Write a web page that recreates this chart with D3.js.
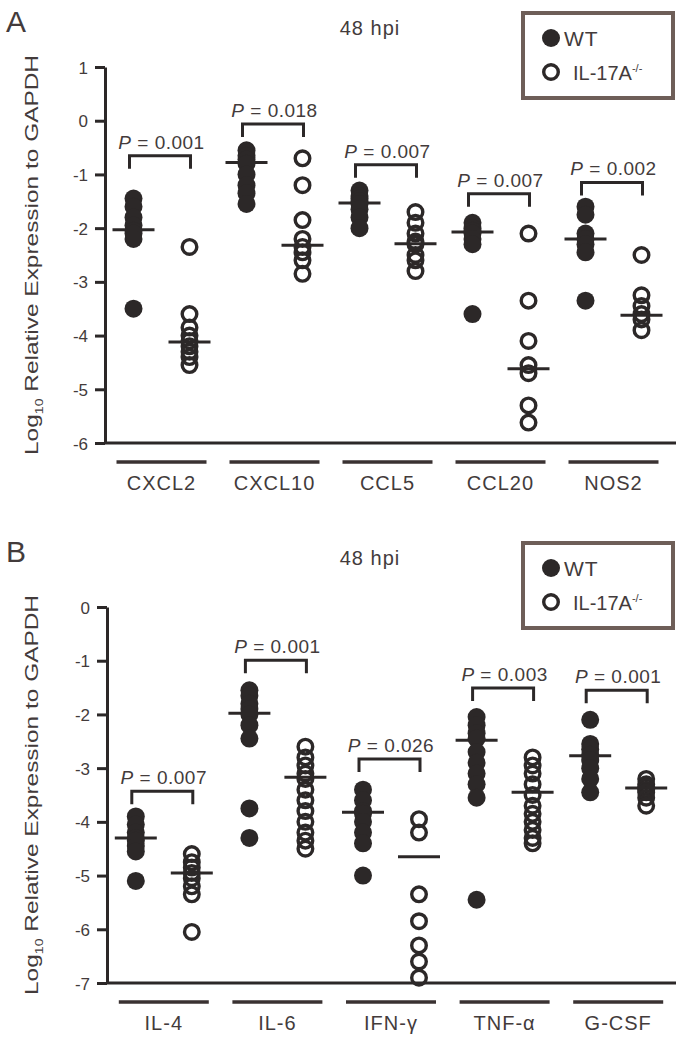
<!DOCTYPE html>
<html>
<head>
<meta charset="utf-8">
<script src="https://cdn.jsdelivr.net/npm/d3@7"></script>
<style>
  body { margin: 0; background: #fff; }
  text { font-family: "Liberation Sans", Arial, sans-serif; fill: #433b3b; }
</style>
</head>
<body>
<div id="chart"></div>
<script>
// panel A
const catsA = ['CXCL2', 'CXCL10', 'CCL5', 'CCL20', 'NOS2'];
const wtA = [
  [-1.45, -1.6, -1.8, -1.95, -2.05, -2.1, -2.2, -3.5],
  [-0.55, -0.65, -0.72, -0.8, -1.0, -1.2, -1.35, -1.55],
  [-1.3, -1.4, -1.45, -1.5, -1.55, -1.65, -1.8, -2.0],
  [-1.9, -2.0, -2.05, -2.1, -2.2, -2.3, -3.6],
  [-1.6, -1.75, -2.1, -2.2, -2.3, -2.45, -3.35]
];
const koA = [
  [-2.35, -3.6, -3.85, -4.0, -4.1, -4.2, -4.3, -4.4, -4.55],
  [-0.7, -1.2, -1.85, -2.2, -2.35, -2.45, -2.6, -2.85],
  [-1.7, -1.9, -2.1, -2.25, -2.3, -2.5, -2.6, -2.8],
  [-2.1, -3.35, -4.1, -4.55, -4.7, -5.3, -5.62],
  [-2.5, -3.25, -3.45, -3.6, -3.7, -3.9]
];
const wtLineA = [-2.03, -0.78, -1.53, -2.07, -2.2];
const koLineA = [-4.12, -2.32, -2.29, -4.62, -3.62];
const pA = ['0.001', '0.018', '0.007', '0.007', '0.002'];
const bracketA = [-0.65, -0.06, -0.82, -1.36, -1.15];
const ticksA = [1, 0, -1, -2, -3, -4, -5, -6];

// panel B
const catsB = ['IL-4', 'IL-6', 'IFN-γ', 'TNF-α', 'G-CSF'];
const wtB = [
  [-3.9, -4.05, -4.2, -4.3, -4.35, -4.45, -4.55, -5.1],
  [-1.55, -1.65, -1.8, -1.9, -2.0, -2.2, -2.45, -3.75, -4.3],
  [-3.4, -3.6, -3.8, -3.85, -4.0, -4.2, -4.4, -5.0],
  [-2.05, -2.2, -2.35, -2.45, -2.7, -2.9, -3.1, -3.3, -3.55, -5.45],
  [-2.1, -2.55, -2.65, -2.75, -2.85, -3.0, -3.2, -3.45]
];
const koB = [
  [-4.6, -4.75, -4.85, -4.95, -5.05, -5.2, -5.35, -6.05],
  [-2.6, -2.8, -2.95, -3.1, -3.2, -3.4, -3.6, -3.8, -4.0, -4.2, -4.35, -4.5],
  [-3.95, -4.2, -5.35, -5.85, -6.3, -6.6, -6.9],
  [-2.8, -2.95, -3.1, -3.3, -3.5, -3.7, -3.85, -4.0, -4.15, -4.3, -4.4],
  [-3.2, -3.3, -3.35, -3.4, -3.45, -3.55, -3.7]
];
const wtLineB = [-4.3, -1.98, -3.82, -2.48, -2.77];
const koLineB = [-4.95, -3.17, -4.65, -3.45, -3.37];
const pB = ['0.007', '0.001', '0.026', '0.003', '0.001'];
const bracketB = [-3.43, -0.99, -2.83, -1.51, -1.55];
const ticksB = [0, -1, -2, -3, -4, -5, -6, -7];

const ink = '#2c2828';

let svg = d3.select('#chart')
  .append('svg')
  .attr('width', 696)
  .attr('height', 1050);

function drawPanel(o) {
  let g = svg.append('g');

  let y = d3.scaleLinear()
    .domain([o.ticks[0], o.ticks[o.ticks.length - 1]])
    .range(o.yRange);

  let x = d3.scaleBand()
    .domain(o.cats)
    .range(o.xRange);

  let off = { wt: -28, ko: 28 };
  let cx = (c, s) => x(c) + x.bandwidth() / 2 + off[s];
  let bottom = o.yRange[1];

  // y axis
  let ax = g.append('g')
    .attr('transform', `translate(${o.xRange[0]},0)`)
    .call(d3.axisLeft(y)
      .tickValues(o.ticks)
      .tickSize(10)
      .tickSizeOuter(0)
      .tickPadding(7)
      .tickFormat(d => String(d)));
  ax.selectAll('path, line')
    .attr('stroke', ink)
    .attr('stroke-width', 3);
  ax.selectAll('text')
    .style('font-size', '17px')
    .attr('fill', '#433b3b')
    .attr('dy', '0.36em');

  // baseline
  g.append('line')
    .attr('x1', o.xRange[0])
    .attr('x2', 676)
    .attr('y1', bottom)
    .attr('y2', bottom)
    .attr('stroke', ink)
    .attr('stroke-width', 3);

  // category underlines + labels
  let cat = g.selectAll('.cat')
    .data(o.cats)
    .enter()
    .append('g')
    .attr('class', 'cat');

  cat.append('line')
    .attr('x1', d => x(d) + x.bandwidth() / 2 - 45)
    .attr('x2', d => x(d) + x.bandwidth() / 2 + 45)
    .attr('y1', bottom + 19)
    .attr('y2', bottom + 19)
    .attr('stroke', '#3a3232')
    .attr('stroke-width', 3.5);

  cat.append('text')
    .text(d => d)
    .attr('x', d => x(d) + x.bandwidth() / 2)
    .attr('y', bottom + 47)
    .attr('text-anchor', 'middle')
    .style('font-size', '20px')
    .style('letter-spacing', '1px');

  // points
  o.cats.forEach((c, i) => {
    g.selectAll('.wt' + i)
      .data(o.wt[i])
      .enter()
      .append('circle')
      .attr('cx', cx(c, 'wt'))
      .attr('cy', d => y(d))
      .attr('r', 9)
      .attr('fill', ink);

    g.selectAll('.ko' + i)
      .data(o.ko[i])
      .enter()
      .append('circle')
      .attr('cx', cx(c, 'ko'))
      .attr('cy', d => y(d))
      .attr('r', 7.3)
      .attr('fill', 'none')
      .attr('stroke', ink)
      .attr('stroke-width', 3.4);

    [['wt', o.wtLine[i]], ['ko', o.koLine[i]]].forEach(([s, v]) => {
      g.append('line')
        .attr('x1', cx(c, s) - 21)
        .attr('x2', cx(c, s) + 21)
        .attr('y1', y(v))
        .attr('y2', y(v))
        .attr('stroke', ink)
        .attr('stroke-width', 3);
    });

    // significance bracket
    let by = y(o.bracket[i]);
    let x1 = cx(c, 'wt') - 4, x2 = cx(c, 'ko') + 1;
    g.append('path')
      .attr('d', `M${x1},${by + 13}V${by}H${x2}V${by + 13}`)
      .attr('fill', 'none')
      .attr('stroke', ink)
      .attr('stroke-width', 3);

    let t = g.append('text')
      .attr('x', x(c) + x.bandwidth() / 2)
      .attr('y', by - 7)
      .attr('text-anchor', 'middle')
      .style('font-size', '19px')
      .style('letter-spacing', '0.5px');
    t.append('tspan').style('font-style', 'italic').text('P');
    t.append('tspan').text(' = ' + o.p[i]);
  });

  // y axis title
  let yt = g.append('text')
    .attr('transform', `translate(38,${(o.yRange[0] + bottom) / 2}) rotate(-90)`)
    .attr('text-anchor', 'middle')
    .style('font-size', '19px')
    .attr('textLength', 400)
    .attr('lengthAdjust', 'spacingAndGlyphs');
  yt.append('tspan').text('Log');
  yt.append('tspan').attr('dy', 5).style('font-size', '11px').text('10');
  yt.append('tspan').attr('dy', -5).text(' Relative Expression to GAPDH');

  // panel letter and title
  g.append('text')
    .text(o.letter)
    .attr('x', 6)
    .attr('y', o.top + 32)
    .style('font-size', '30px')
    .attr('fill', '#2a2424');

  g.append('text')
    .text('48 hpi')
    .attr('x', 370)
    .attr('y', o.top + 35)
    .attr('text-anchor', 'middle')
    .style('font-size', '20px')
    .style('letter-spacing', '1px');

  // legend
  let lg = g.append('g').attr('transform', `translate(523,${o.top + 13})`);
  lg.append('rect')
    .attr('width', 150)
    .attr('height', 85)
    .attr('fill', 'none')
    .attr('stroke', '#6e5e58')
    .attr('stroke-width', 4);
  lg.append('circle')
    .attr('cx', 28).attr('cy', 25).attr('r', 9)
    .attr('fill', ink);
  lg.append('circle')
    .attr('cx', 28).attr('cy', 59).attr('r', 7.3)
    .attr('fill', 'none')
    .attr('stroke', ink)
    .attr('stroke-width', 3.4);
  lg.append('text')
    .text('WT')
    .attr('x', 41).attr('y', 33)
    .style('font-size', '21px')
    .style('letter-spacing', '1px');
  let kt = lg.append('text')
    .attr('x', 50).attr('y', 67)
    .style('font-size', '20px');
  kt.append('tspan').text('IL-17A');
  kt.append('tspan').attr('dy', -8).style('font-size', '11px').text('-/-');
}

drawPanel({
  letter: 'A', top: 0,
  cats: catsA, wt: wtA, ko: koA, wtLine: wtLineA, koLine: koLineA,
  p: pA, bracket: bracketA, ticks: ticksA,
  xRange: [105, 670], yRange: [67, 443]
});

drawPanel({
  letter: 'B', top: 530,
  cats: catsB, wt: wtB, ko: koB, wtLine: wtLineB, koLine: koLineB,
  p: pB, bracket: bracketB, ticks: ticksB,
  xRange: [107, 675], yRange: [607, 983]
});
</script>
</body>
</html>
